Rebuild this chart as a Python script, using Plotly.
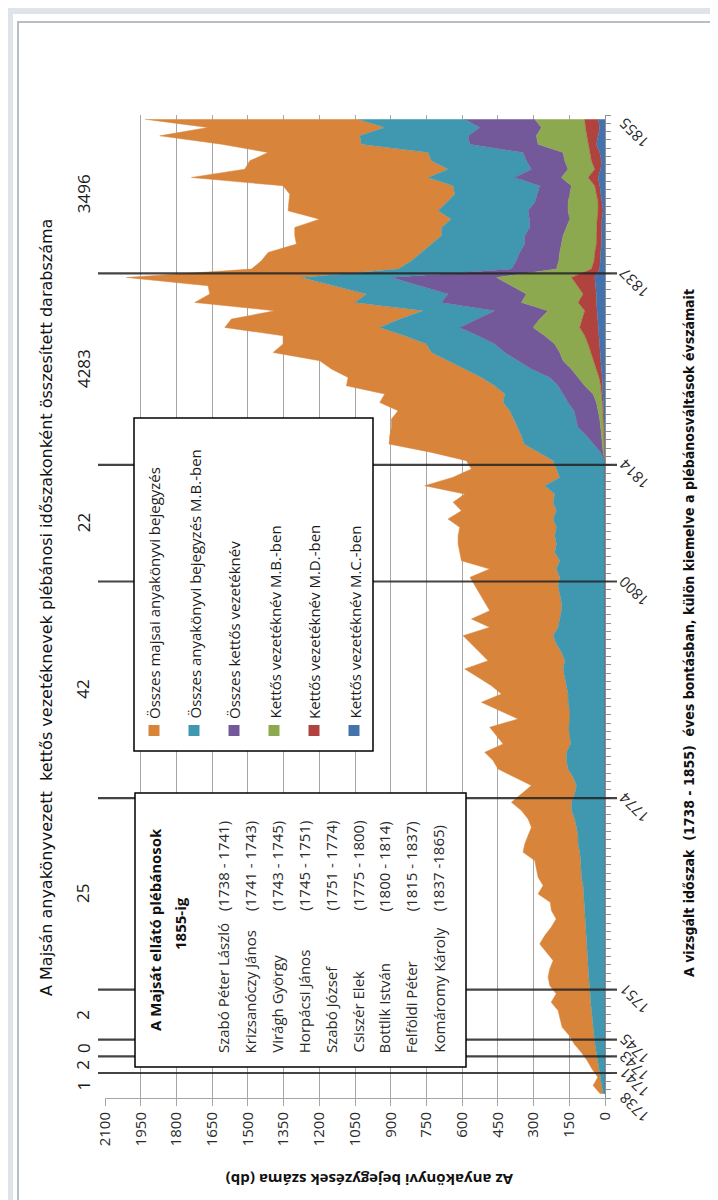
import plotly.graph_objects as go

years = list(range(1738, 1856))

# series values (per year, 1738..1855)
mc_kettos = [0]*76 + [0, 1, 1, 1, 3, 4, 5, 7, 8, 11, 12, 15, 18, 19, 22, 26, 29, 32, 33, 36, 36, 40, 43,
                      22, 21, 18, 15, 15, 15, 13, 8, 13, 15, 22, 29, 18, 15, 22, 36, 29, 22, 29]
md_kettos = [0]*76 + [0, 2, 2, 3, 2, 3, 3, 4, 7, 7, 13, 21, 32, 41, 49, 59, 77, 64, 52, 77, 56, 76, 98,
                      35, 25, 25, 21, 21, 21, 20, 21, 16, 21, 21, 42, 25, 42, 42, 35, 49, 60, 56]
mb_kettos = [0]*76 + [1, 5, 8, 8, 13, 15, 21, 25, 35, 67, 88, 105, 126, 130, 140, 168, 196, 178, 154, 238, 238, 277, 315,
                      147, 148, 147, 147, 140, 126, 115, 126, 126, 112, 98, 112, 112, 112, 112, 210, 210, 185, 210]
osszes_kettos = [0]*76 + [2, 10, 35, 66, 95, 98, 101, 119, 126, 112, 119, 168, 189, 231, 252, 280, 308, 266, 224, 336, 329, 385, 441,
                          189, 178, 168, 154, 161, 154, 169, 168, 140, 136, 133, 196, 154, 161, 168, 287, 287, 259, 294]
osszes_mb = [8, 14, 18, 24, 30, 36, 42, 46, 50, 54, 57, 60, 62, 66, 68, 70, 72, 74, 76, 78, 80, 82, 84, 85,
             88, 92, 99, 99, 102, 106, 113, 113, 120, 127, 141, 141, 127, 120, 134, 155, 162, 162, 144, 148,
             152, 148, 148, 155, 155, 162, 169, 176, 169, 183, 204, 218, 197, 190, 183, 183, 190, 197, 190, 204,
             190, 211, 204, 211, 204, 218, 204, 218, 211, 253, 190, 204, 215, 260, 294, 273, 255, 266, 270, 273,
             245, 266, 287, 280, 294, 308, 287, 308, 336, 322, 301, 364, 343, 364, 378, 476, 441, 413, 392, 350,
             371, 329, 378, 371, 347, 364, 364, 350, 399, 399, 455, 455, 399, 448]
osszes_majsai = [12, 36, 12, 31, 45, 64, 88, 104, 130, 136, 140, 166, 143, 166, 171, 162, 146, 172, 198, 175,
                 146, 123, 141, 145, 193, 168, 182, 189, 193, 238, 224, 210, 189, 196, 210, 252, 224, 189, 245,
                 294, 308, 343, 284, 308, 332, 217, 294, 364, 280, 315, 364, 413, 322, 343, 357, 378, 287, 371,
                 301, 322, 336, 350, 377, 280, 413, 399, 413, 406, 406, 441, 399, 420, 378, 504, 450, 357, 364,
                 450, 567, 553, 529, 511, 469, 518, 504, 623, 560, 560, 539, 665, 602, 511, 651, 707, 623, 672,
                 658, 525, 735, 616, 630, 644, 567, 616, 616, 553, 630, 662, 693, 714, 994, 854, 763, 672, 588,
                 840, 742, 896]

series_names = ["Kettős vezetéknév M.C.-ben", "Kettős vezetéknév M.D.-ben", "Kettős vezetéknév M.B.-ben",
                "Összes kettős vezetéknév", "Összes anyakönyvi bejegyzés M.B.-ben", "Összes majsai anyakönyvi bejegyzés"]
series_values = [mc_kettos, md_kettos, mb_kettos, osszes_kettos, osszes_mb, osszes_majsai]
series_colors = ["#4372AC", "#B1433F", "#8DA94F", "#73589A", "#3F98B0", "#D9843B"]

change_years = [1741, 1743, 1745, 1751, 1774, 1800, 1814, 1837]
period_counts = ["1", "2", "0", "2", "25", "42", "22", "4283", "3496"]
label_years = [1738, 1741, 1743, 1745, 1751, 1774, 1800, 1814, 1837, 1855]
value_ticks = list(range(0, 2101, 150))

priests = ["Szabó Péter László", "Krizsanóczy János", "Virágh György", "Horpácsi János", "Szabó József",
           "Csiszér Elek", "Bottlik István", "Felföldi Péter", "Komáromy Károly"]
terms = ["(1738 - 1741)", "(1741 - 1743)", "(1743 - 1745)", "(1745 - 1751)", "(1751 - 1774)",
         "(1775 - 1800)", "(1800 - 1814)", "(1815 - 1837)", "(1837 -1865)"]

W, H = 718, 1200
L, R, T, B = 97, 597, 107, 1090


def px(x):
    return (x - L) / (R - L)


def py(y):
    return (B - y) / (B - T)


fig = go.Figure()
for name, vals, col in zip(series_names, series_values, series_colors):
    fig.add_trace(go.Scatter(x=vals, y=years, name=name, orientation="h", stackgroup="s",
                             mode="lines", line=dict(width=0.5, color=col), fillcolor=col,
                             showlegend=False))

shapes = []
# frame
shapes.append(dict(type="rect", xref="paper", yref="paper", x0=px(2), x1=px(730), y0=py(1199), y1=py(3),
                   line=dict(color="#dfe4ea", width=6), fillcolor="rgba(0,0,0,0)", layer="below"))
shapes.append(dict(type="rect", xref="paper", yref="paper", x0=px(10), x1=px(730), y0=py(1194), y1=py(14),
                   line=dict(color="#b8bec6", width=2), fillcolor="rgba(0,0,0,0)", layer="below"))
# priest-change lines
for yv in change_years:
    shapes.append(dict(type="line", xref="paper", yref="y", x0=px(90), x1=px(609), y0=yv - 0.5, y1=yv - 0.5,
                       line=dict(color="rgba(35,35,35,0.85)", width=2.2), layer="above"))
# legend box
shapes.append(dict(type="rect", xref="paper", yref="paper", x0=px(126), x1=px(365), y0=py(743), y1=py(410),
                   line=dict(color="#000000", width=1.5), fillcolor="white", layer="above"))
# priests box
shapes.append(dict(type="rect", xref="paper", yref="paper", x0=px(127), x1=px(458), y0=py(1059), y1=py(785),
                   line=dict(color="#000000", width=1.5), fillcolor="white", layer="above"))

ann = []
# legend entries (reverse order, top series first)
leg_x = [146, 186, 226, 266, 306, 346]
for i, (name, col) in enumerate(zip(series_names[::-1], series_colors[::-1])):
    shapes.append(dict(type="rect", xref="paper", yref="paper", x0=px(leg_x[i] - 5.5), x1=px(leg_x[i] + 5.5),
                       y0=py(728), y1=py(717), line=dict(width=0), fillcolor=col, layer="above"))
    ann.append(dict(text=name, xref="paper", yref="paper", x=px(leg_x[i]), y=py(713), xanchor="center",
                    yanchor="bottom", textangle=-90, showarrow=False,
                    font=dict(family="Open Sans", size=15, color="#1a1a1a")))

# priests box
ann.append(dict(text="<b>A Majsát ellátó plébánosok</b>", xref="paper", yref="paper", x=px(147), y=py(922),
                xanchor="center", yanchor="middle", textangle=-90, showarrow=False,
                font=dict(family="Open Sans", size=15, color="#111")))
ann.append(dict(text="<b>1855-ig</b>", xref="paper", yref="paper", x=px(172), y=py(916),
                xanchor="center", yanchor="middle", textangle=-90, showarrow=False,
                font=dict(family="Open Sans", size=15, color="#111")))
for i, (p, t) in enumerate(zip(priests, terms)):
    cx = 215 + i * 26.9
    ann.append(dict(text=p, xref="paper", yref="paper", x=px(cx), y=py(1047), xanchor="center",
                    yanchor="bottom", textangle=-90, showarrow=False,
                    font=dict(family="Open Sans", size=15, color="#2a2a2a")))
    ann.append(dict(text=t, xref="paper", yref="paper", x=px(cx), y=py(905), xanchor="center",
                    yanchor="bottom", textangle=-90, showarrow=False,
                    font=dict(family="Open Sans", size=15, color="#2a2a2a")))

# period counts
edges = [1737.5] + [y - 0.5 for y in change_years] + [1855.5]
for i, c in enumerate(period_counts):
    ann.append(dict(text=c, xref="paper", yref="y", x=px(75), y=(edges[i] + edges[i + 1]) / 2,
                    xanchor="center", yanchor="middle", textangle=-90, showarrow=False,
                    font=dict(family="Open Sans", size=17, color="#1a1a1a")))

# year labels
for yv in label_years:
    ann.append(dict(text=str(yv), xref="paper", yref="y", x=1, xshift=29, y=yv, yshift=-14,
                    xanchor="center", yanchor="middle", textangle=-135, showarrow=False,
                    font=dict(family="Open Sans", size=15, color="#2a2a2a")))

# titles
ann.append(dict(text="A Majsán anyakönyvezett  kettős vezetéknevek plébánosi időszakonként összesített darabszáma",
                xref="paper", yref="paper", x=px(38), y=py(600), xanchor="center", yanchor="middle",
                textangle=-90, showarrow=False, font=dict(family="DejaVu Sans", size=16, color="#111")))
ann.append(dict(text="<b>A vizsgált időszak  (1738 - 1855)  éves bontásban, külön kiemelve a plébánosváltások évszámait</b>",
                xref="paper", yref="paper", x=px(681), y=py(625), xanchor="center", yanchor="middle",
                textangle=-90, showarrow=False,
                font=dict(family="DejaVu Sans Condensed, Liberation Sans, sans-serif", size=14, color="#111")))
ann.append(dict(text="<b>Az anyakönyvi bejegyzések száma (db)</b>", xref="paper", yref="paper",
                x=px(362), y=py(1172), xanchor="center", yanchor="middle", textangle=180, showarrow=False,
                font=dict(family="Open Sans", size=15, color="#111")))

fig.update_layout(
    width=W, height=H, autosize=False,
    margin=dict(l=L, r=W - R, t=T, b=H - B, pad=0),
    paper_bgcolor="white", plot_bgcolor="white",
    shapes=shapes, annotations=ann, showlegend=False,
    xaxis=dict(range=[2100, 0], tickmode="array", tickvals=value_ticks, ticktext=[str(v) for v in value_ticks],
               tickangle=-90, showgrid=True, gridcolor="#a6a6a6", gridwidth=1, zeroline=False,
               showline=True, linecolor="#a6a6a6", linewidth=1, ticks="outside", ticklen=7, tickcolor="#a6a6a6",
               tickfont=dict(family="Open Sans", size=15, color="#2a2a2a"), fixedrange=True),
    yaxis=dict(range=[1737.5, 1855.5], side="right", tickmode="array",
               tickvals=[y - 0.5 for y in years] + [1855.5], showticklabels=False,
               ticks="outside", ticklen=5, tickcolor="#909090", showgrid=False, zeroline=False,
               showline=True, linecolor="#909090", linewidth=1, fixedrange=True),
)

fig.write_html("out.html")
